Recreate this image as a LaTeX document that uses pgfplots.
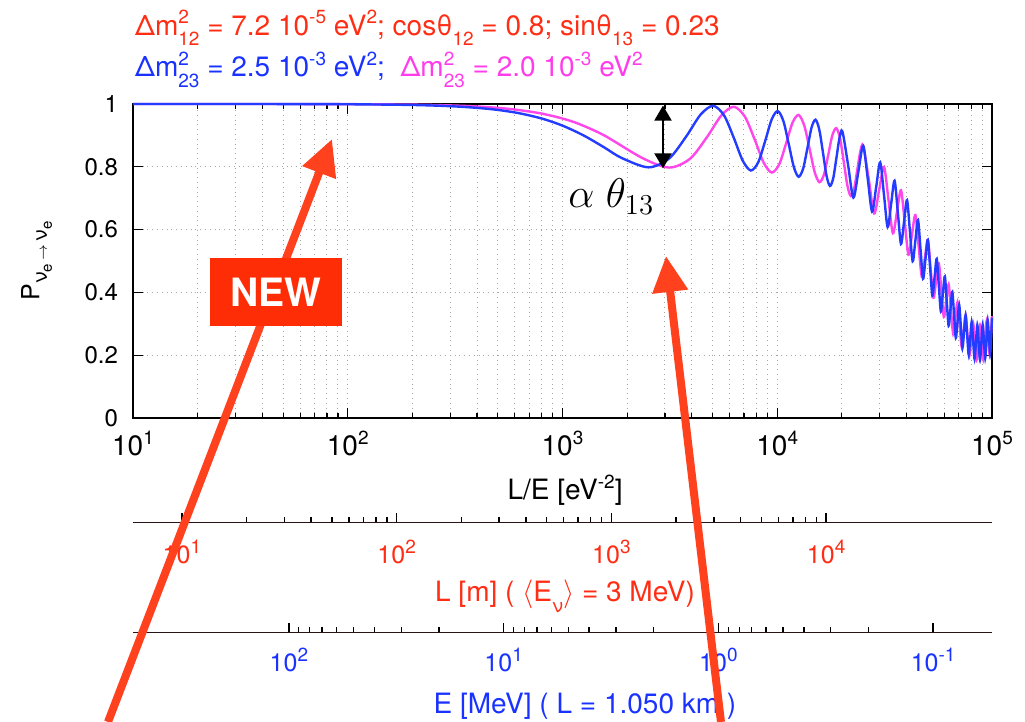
\documentclass[border=0pt]{standalone}
\usepackage{pgfplots}
\pgfplotsset{compat=1.18}
\usepackage{fontspec}
\setmainfont{TeX Gyre Heros}
\usetikzlibrary{arrows.meta}

\definecolor{txtred}{RGB}{255,45,20}
\definecolor{txtblue}{RGB}{25,50,255}
\definecolor{txtmag}{RGB}{255,60,235}
\definecolor{curveblue}{RGB}{35,60,255}
\definecolor{curvemag}{RGB}{255,70,235}
\definecolor{arrowred}{RGB}{255,65,30}
\definecolor{boxred}{RGB}{255,45,5}
\definecolor{axisdark}{RGB}{40,20,20}

% small raised / lowered indices in the text font
\newcommand{\up}[1]{\raisebox{0.4em}{\fontsize{9.5}{10}\selectfont #1}}
\newcommand{\dn}[1]{\raisebox{-0.36em}{\fontsize{9.5}{10}\selectfont #1}}
\newcommand{\ud}[2]{\rlap{\up{#1}}\dn{#2}}

% survival probability, Dm2_23 = 2.5e-3 eV^2
\pgfplotstableread{
x P
10 1.0000
20 1.0000
50 0.9998
100 0.9992
200 0.9969
300 0.9930
400 0.9877
500 0.9811
628.3 0.9706
800 0.9538
1000 0.9311
1256.6 0.8995
1570 0.8611
1885.0 0.8282
2513.3 0.7983
3141.6 0.8269
3769.9 0.8968
4398.2 0.9664
5026.5 0.9943
5654.9 0.9636
6283.2 0.8914
6911.5 0.8192
7539.8 0.7882
8168.1 0.8153
8796.5 0.8834
9424.8 0.9511
10053.1 0.9775
10681.4 0.9457
11309.7 0.8728
11938.1 0.8001
12566.4 0.7682
13194.7 0.7938
13823.0 0.8598
14451.3 0.9253
15079.6 0.9500
15708.0 0.9173
16336.3 0.8444
16964.6 0.7716
17592.9 0.7391
18221.2 0.7631
18849.6 0.8267
19477.9 0.8898
20106.2 0.9128
21362.8 0.8069
22619.5 0.7018
23876.1 0.7852
25132.7 0.8670
26389.4 0.7618
27646.0 0.6575
28902.7 0.7367
30159.3 0.8141
31415.9 0.7103
32672.6 0.6079
33929.2 0.6828
35185.8 0.7557
36442.5 0.6543
37699.1 0.5544
38955.8 0.6251
40212.4 0.6938
41469.0 0.5955
42725.7 0.4990
43982.3 0.5657
45238.9 0.6303
46495.6 0.5359
47752.2 0.4435
49008.8 0.5063
50265.5 0.5673
51522.1 0.4773
52778.8 0.3896
54035.4 0.4491
55292.0 0.5068
56548.7 0.4218
57805.3 0.3392
59061.9 0.3958
60318.6 0.4508
61575.2 0.3712
62831.9 0.2938
64088.5 0.3482
65345.1 0.4011
66601.8 0.3270
67858.4 0.2550
69115.0 0.3078
70371.7 0.3595
71628.3 0.2907
72884.9 0.2239
74141.6 0.2760
75398.2 0.3274
76654.9 0.2636
77911.5 0.2015
79168.1 0.2537
80424.8 0.3058
81681.4 0.2465
82938.1 0.1883
84194.7 0.2418
85451.3 0.2957
86708.0 0.2399
87964.6 0.1848
89221.2 0.2406
90477.9 0.2973
91734.5 0.2441
92991.2 0.1910
94247.8 0.2502
95504.4 0.3107
96761.1 0.2589
98017.7 0.2068
99274.3 0.2702
100000 0.3198
}\blueP

% survival probability, Dm2_23 = 2.0e-3 eV^2
\pgfplotstableread{
x P
10 1.0000
20 1.0000
50 0.9999
100 0.9995
200 0.9980
300 0.9955
400 0.9921
500 0.9877
600 0.9824
785.4 0.9705
1000 0.9537
1200 0.9358
1570.8 0.8993
2356.2 0.8278
3141.6 0.7976
3927.0 0.8258
4712.4 0.8951
5497.8 0.9640
6283.2 0.9912
7068.6 0.9596
7854.0 0.8867
8639.4 0.8137
9424.8 0.7818
10210.2 0.8077
10995.6 0.8743
11781.0 0.9403
12566.4 0.9650
13351.8 0.9319
14137.2 0.8580
14922.6 0.7842
15708.0 0.7510
16493.4 0.7746
17278.8 0.8380
18064.2 0.9007
18849.6 0.9229
19635.0 0.8886
20420.4 0.8146
21205.8 0.7409
21991.2 0.7068
22776.5 0.7281
23561.9 0.7880
24347.3 0.8472
25132.7 0.8670
26703.5 0.7587
28274.3 0.6516
29845.1 0.7270
31415.9 0.7999
32986.7 0.6932
34557.5 0.5882
36128.3 0.6579
37699.1 0.7251
39269.9 0.6214
40840.7 0.5199
42411.5 0.5843
43982.3 0.6462
45553.1 0.5470
47123.9 0.4503
48694.7 0.5100
50265.5 0.5673
51836.3 0.4738
53407.1 0.3831
54977.9 0.4387
56548.7 0.4923
58119.5 0.4054
59690.3 0.3215
61261.1 0.3742
62831.9 0.4251
64402.7 0.3454
65973.5 0.2687
67544.2 0.3195
69115.0 0.3691
70685.8 0.2969
72256.6 0.2274
73827.4 0.2777
75398.2 0.3274
76969.0 0.2622
78539.8 0.1993
80110.6 0.2507
81681.4 0.3022
83252.2 0.2432
84823.0 0.1859
86393.8 0.2400
87964.6 0.2950
89535.4 0.2409
91106.2 0.1875
92677.0 0.2460
94247.8 0.3063
95818.6 0.2553
97389.4 0.2043
98960.2 0.2686
100000 0.3241
}\magP

\begin{document}
\begin{tikzpicture}
\path[use as bounding box] (-66.5pt,-152pt) rectangle (446pt,209pt);

\begin{axis}[
  at={(0pt,0pt)}, anchor=south west,
  scale only axis, width=429.5pt, height=157pt,
  xmode=log, xmin=10, xmax=100000, ymin=0, ymax=1,
  xtick={10,100,1000,10000,100000},
  xticklabels={10\up{1},10\up{2},10\up{3},10\up{4},10\up{5}},
  ytick={0,0.2,0.4,0.6,0.8,1},
  yticklabels={0,0.2,0.4,0.6,0.8,1},
  minor y tick num=0,
  xminorgrids=true, xmajorgrids=true, ymajorgrids=true,
  grid style={dotted, line width=0.5pt, color=black!35},
  tick align=inside,
  major tick length=5pt, minor tick length=2.5pt,
  every tick/.style={black, line width=0.6pt},
  axis line style={line width=1pt},
  xticklabel style={font=\fontsize{14}{16}\selectfont, yshift=-3pt},
  yticklabel style={font=\fontsize{12}{14}\selectfont, xshift=-4pt},
  xlabel={L/E [eV\up{-2}]},
  xlabel style={font=\fontsize{14}{16}\selectfont, at={(axis description cs:0.503,-0.261)}, anchor=base},
  ylabel={P\raisebox{-0.3em}{\fontsize{10}{11}\selectfont ν\raisebox{-0.25em}{\fontsize{7.5}{8}\selectfont e}\,$\scriptstyle\rightarrow$\,ν\raisebox{-0.25em}{\fontsize{7.5}{8}\selectfont e}}},
  ylabel style={font=\fontsize{12.5}{14}\selectfont, at={(axis description cs:-0.1123,0.5)}, anchor=center},
  clip=false,
]
\addplot[curvemag, line width=1.2pt, smooth] table[x=x, y=P] {\magP};
\addplot[curveblue, line width=1.2pt, smooth] table[x=x, y=P] {\blueP};

% theta_13 dip depth marker
\draw[{Triangle[length=7.5pt,width=8.5pt]}-{Triangle[length=7.5pt,width=8.5pt]}, line width=1pt]
  (axis cs:2938,0.795) -- (axis cs:2938,0.995);
\node[anchor=base west, inner sep=0, font=\fontsize{20}{22}\selectfont] at (axis cs:1061,0.669) {$\alpha\;\theta_{13}$};

% parameter lines above the frame
\node[anchor=base west, inner sep=0, text=txtred, font=\fontsize{14}{16}\selectfont]
  at (axis description cs:0.002,1.2197)
  {Δm\ud{2}{12} = 7.2 10\up{-5} eV\up{2}; cosθ\dn{12} = 0.8; sinθ\dn{13} = 0.23};
\node[anchor=base west, inner sep=0, font=\fontsize{14}{16}\selectfont]
  at (axis description cs:0.002,1.086)
  {{\color{txtblue}Δm\ud{2}{23} = 2.5 10\up{-3} eV\up{2};}\ \ {\color{txtmag}Δm\ud{2}{23} = 2.0 10\up{-3} eV\up{2}}};

\coordinate (A1tip) at (axis cs:84.5,0.8885);
\coordinate (A1end) at (axis cs:7.65,-0.968);
\coordinate (A2tip) at (axis cs:3034,0.516);
\coordinate (A2end) at (axis cs:5470,-0.968);
\end{axis}

% distance scale for <E> = 3 MeV
\begin{axis}[
  at={(0pt,-52.5pt)}, anchor=south west,
  scale only axis, width=429.5pt, height=10pt,
  xmode=log, xmin=5.92, xmax=59200, ymin=0, ymax=1,
  axis line style={draw=none}, ytick=\empty, xtick pos=left,
  tick align=inside,
  xtick={10,100,1000,10000},
  xticklabels={10\up{1},10\up{2},10\up{3},10\up{4}},
  major tick length=5pt, minor tick length=3pt,
  every tick/.style={black, line width=0.7pt},
  xticklabel style={text=txtred, font=\fontsize{12.5}{14}\selectfont, yshift=-5pt},
]
\draw[axisdark, line width=1.3pt] (rel axis cs:0,0) -- (rel axis cs:1,0);
\end{axis}
\node[anchor=base, text=txtred, font=\fontsize{14}{16}\selectfont, inner sep=0] at (216pt,-92pt)
  {L [m] ( $\langle$E\dn{ν}$\rangle$ = 3 MeV)};

% energy scale for L = 1.050 km
\begin{axis}[
  at={(0pt,-107.5pt)}, anchor=south west,
  scale only axis, width=429.5pt, height=10pt,
  xmode=log, x dir=reverse, xmin=0.05323, xmax=532.3, ymin=0, ymax=1,
  axis line style={draw=none}, ytick=\empty, xtick pos=left,
  tick align=inside,
  xtick={0.1,1,10,100},
  xticklabels={10\up{-1},10\up{0},10\up{1},10\up{2}},
  major tick length=5pt, minor tick length=3pt,
  every tick/.style={black, line width=0.7pt},
  xticklabel style={text=txtblue, font=\fontsize{12.5}{14}\selectfont, yshift=-4pt},
]
\draw[axisdark, line width=1.3pt] (rel axis cs:0,0) -- (rel axis cs:1,0);
\end{axis}
\node[anchor=base, text=txtblue, font=\fontsize{14}{16}\selectfont, inner sep=0] at (226pt,-148pt)
  {E [MeV] ( L = 1.050 km )};

% highlight arrows and label
\draw[arrowred, line width=4pt, -{Triangle[length=18pt,width=17pt]}] (A1end) -- (A1tip);
\node[fill=boxred, text=white, font=\bfseries\fontsize{19.5}{22}\selectfont,
      minimum width=66pt, minimum height=34pt, inner sep=0] at (71.5pt,63pt) {NEW};
\draw[arrowred, line width=4pt, -{Triangle[length=18pt,width=17pt]}] (A2end) -- (A2tip);
\end{tikzpicture}
\end{document}
